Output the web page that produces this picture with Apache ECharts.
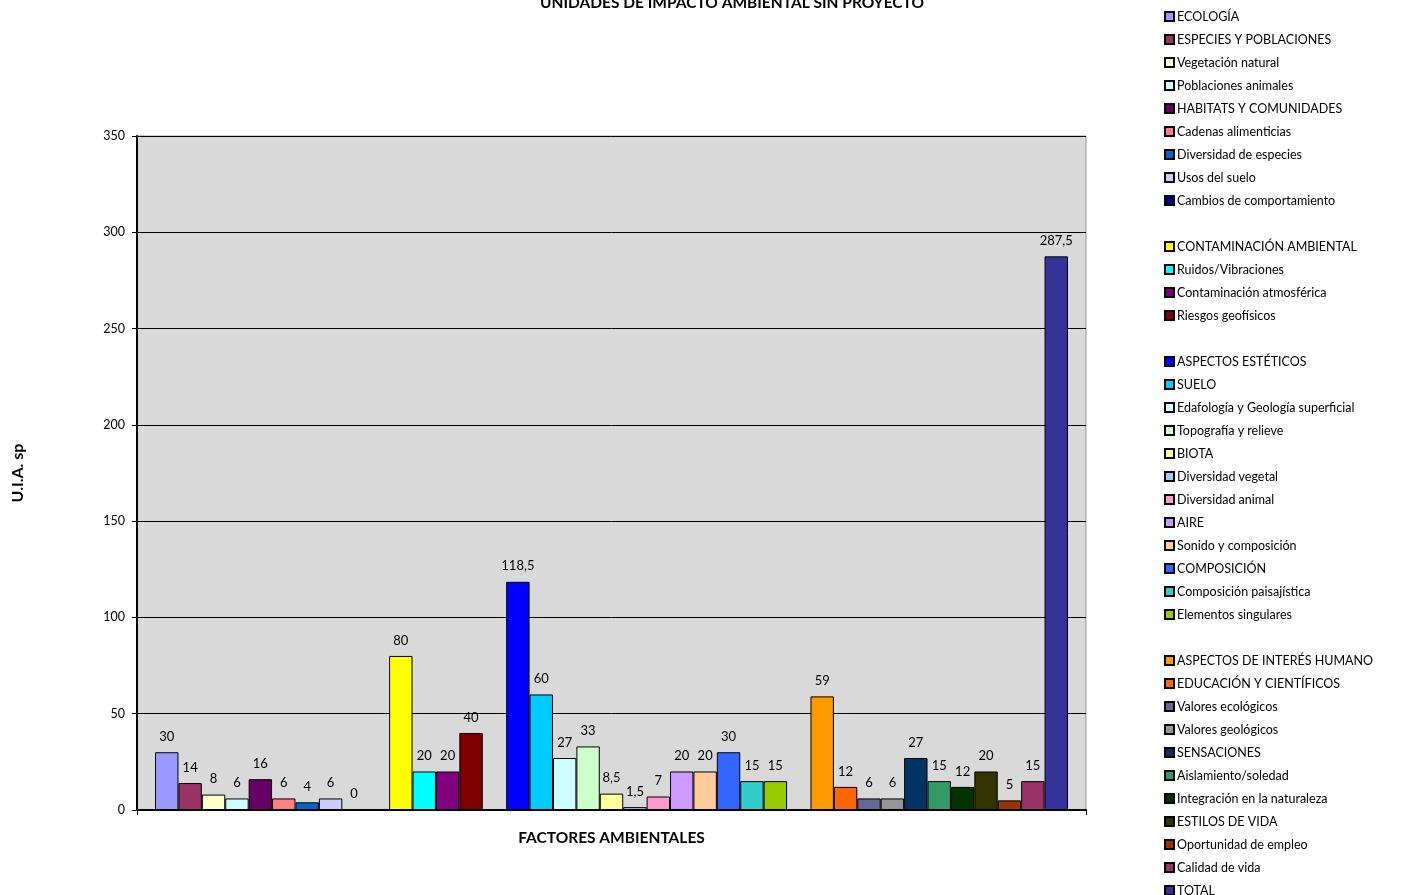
<!DOCTYPE html>
<html>
<head>
<meta charset="utf-8">
<script src="https://cdn.jsdelivr.net/npm/echarts@6/dist/echarts.min.js"></script>
<style>
  html, body { margin: 0; padding: 0; background: #fff; }
  #c1 { width: 1426px; height: 895px; }
</style>
</head>
<body>
<div id="c1"></div>
<script>
// one category, one series per factor (Excel-style "series per bar")
const categories = ['FACTORES AMBIENTALES']

const seriesNames = [
  'ECOLOGÍA', 'ESPECIES Y POBLACIONES', 'Vegetación natural', 'Poblaciones animales',
  'HABITATS Y COMUNIDADES', 'Cadenas alimenticias', 'Diversidad de especies', 'Usos del suelo',
  'Cambios de comportamiento', ' ',
  'CONTAMINACIÓN AMBIENTAL', 'Ruidos/Vibraciones', 'Contaminación atmosférica', 'Riesgos geofísicos', '  ',
  'ASPECTOS ESTÉTICOS', 'SUELO', 'Edafología y Geología superficial', 'Topografía y relieve',
  'BIOTA', 'Diversidad vegetal', 'Diversidad animal', 'AIRE', 'Sonido y composición',
  'COMPOSICIÓN', 'Composición paisajística', 'Elementos singulares', '   ',
  'ASPECTOS DE INTERÉS HUMANO', 'EDUCACIÓN Y CIENTÍFICOS', 'Valores ecológicos', 'Valores geológicos',
  'SENSACIONES', 'Aislamiento/soledad', 'Integración en la naturaleza',
  'ESTILOS DE VIDA', 'Oportunidad de empleo', 'Calidad de vida', 'TOTAL'
]

const seriesValues = [
  30, 14, 8, 6, 16, 6, 4, 6, 0, null,
  80, 20, 20, 40, null,
  118.5, 60, 27, 33, 8.5, 1.5, 7, 20, 20, 30, 15, 15, null,
  59, 12, 6, 6, 27, 15, 12, 20, 5, 15, 287.5
]

const seriesColors = [
  '#9999FF', '#993366', '#FFFFCC', '#CCFFFF', '#660066', '#FF8080', '#0066CC', '#CCCCFF', '#000080', '#FF00FF',
  '#FFFF00', '#00FFFF', '#800080', '#800000', '#008080',
  '#0000FF', '#00CCFF', '#CCFFFF', '#CCFFCC', '#FFFF99', '#99CCFF', '#FF99CC', '#CC99FF', '#FFCC99',
  '#3366FF', '#33CCCC', '#99CC00', '#FFCC00',
  '#FF9900', '#FF6600', '#666699', '#969696', '#003366', '#339966', '#003300',
  '#333300', '#993300', '#993366', '#333399'
]

const yTicks = { min: 0, max: 350, interval: 50 }

const font = 'Lato, "Liberation Sans", sans-serif'

const myChart = echarts.init(document.getElementById('c1'))

const series = seriesNames.map((name, i) => ({
  name,
  type: 'bar',
  barGap: 0,
  barCategoryGap: '3.8%',
  data: [seriesValues[i] === null ? '-' : seriesValues[i]],
  itemStyle: {
    color: seriesColors[i],
    borderColor: '#000',
    borderWidth: 1
  },
  label: {
    show: seriesValues[i] !== null,
    position: 'top',
    distance: 9,
    color: '#000',
    fontSize: 13,
    fontFamily: font,
    formatter: (p) => String(p.value).replace('.', ',')
  },
  animation: false
}))

const legendData = seriesNames.map((name, i) =>
  seriesValues[i] === null ? { name, icon: 'none' } : { name, icon: 'rect' }
)

// the legend is a bit taller than the page, so the last row gets its own legend
const legendBase = {
  orient: 'vertical',
  left: 1164,
  padding: 0,
  itemWidth: 9,
  itemHeight: 9,
  itemGap: 10,
  selectedMode: false,
  textStyle: { fontSize: 12.5, color: '#000', fontFamily: font, padding: [0, 0, 0, -2] }
}

var option = {
  backgroundColor: '#fff',
  title: {
    text: 'UNIDADES DE IMPACTO AMBIENTAL SIN PROYECTO',
    left: 727,
    textAlign: 'center',
    top: -10,
    textStyle: { fontSize: 15.5, fontWeight: 'bold', color: '#000', fontFamily: font }
  },
  legend: [
    Object.assign({}, legendBase, { top: 10, data: legendData.slice(0, 38) }),
    Object.assign({}, legendBase, { top: 10 + 38 * 23, data: legendData.slice(38) })
  ],
  grid: {
    left: 137,
    right: 340,
    top: 136,
    bottom: 85,
    show: true,
    backgroundColor: '#D9D9D9',
    borderColor: '#999',
    borderWidth: 1
  },
  xAxis: {
    type: 'category',
    data: categories,
    name: 'FACTORES AMBIENTALES',
    nameLocation: 'middle',
    nameGap: 20,
    nameTextStyle: { fontSize: 15.5, fontWeight: 'bold', color: '#000', fontFamily: font },
    axisLine: { show: true, lineStyle: { color: '#000', width: 2 } },
    axisTick: { show: true, alignWithLabel: false, length: 5, lineStyle: { color: '#000' } },
    axisLabel: { show: false }
  },
  yAxis: {
    type: 'value',
    min: yTicks.min,
    max: yTicks.max,
    interval: yTicks.interval,
    name: 'U.I.A. sp',
    nameLocation: 'middle',
    nameGap: 111,
    nameTextStyle: { fontSize: 16, fontWeight: 'bold', color: '#000', fontFamily: font },
    axisLine: { show: true, lineStyle: { color: '#000', width: 2 } },
    axisTick: { show: true, length: 5, lineStyle: { color: '#000' } },
    axisLabel: { color: '#000', fontSize: 12.5, fontFamily: font, margin: 12 },
    splitLine: { show: true, lineStyle: { color: '#000', width: 1, type: 'solid' } }
  },
  series
}
option && myChart.setOption(option)
</script>
</body>
</html>
